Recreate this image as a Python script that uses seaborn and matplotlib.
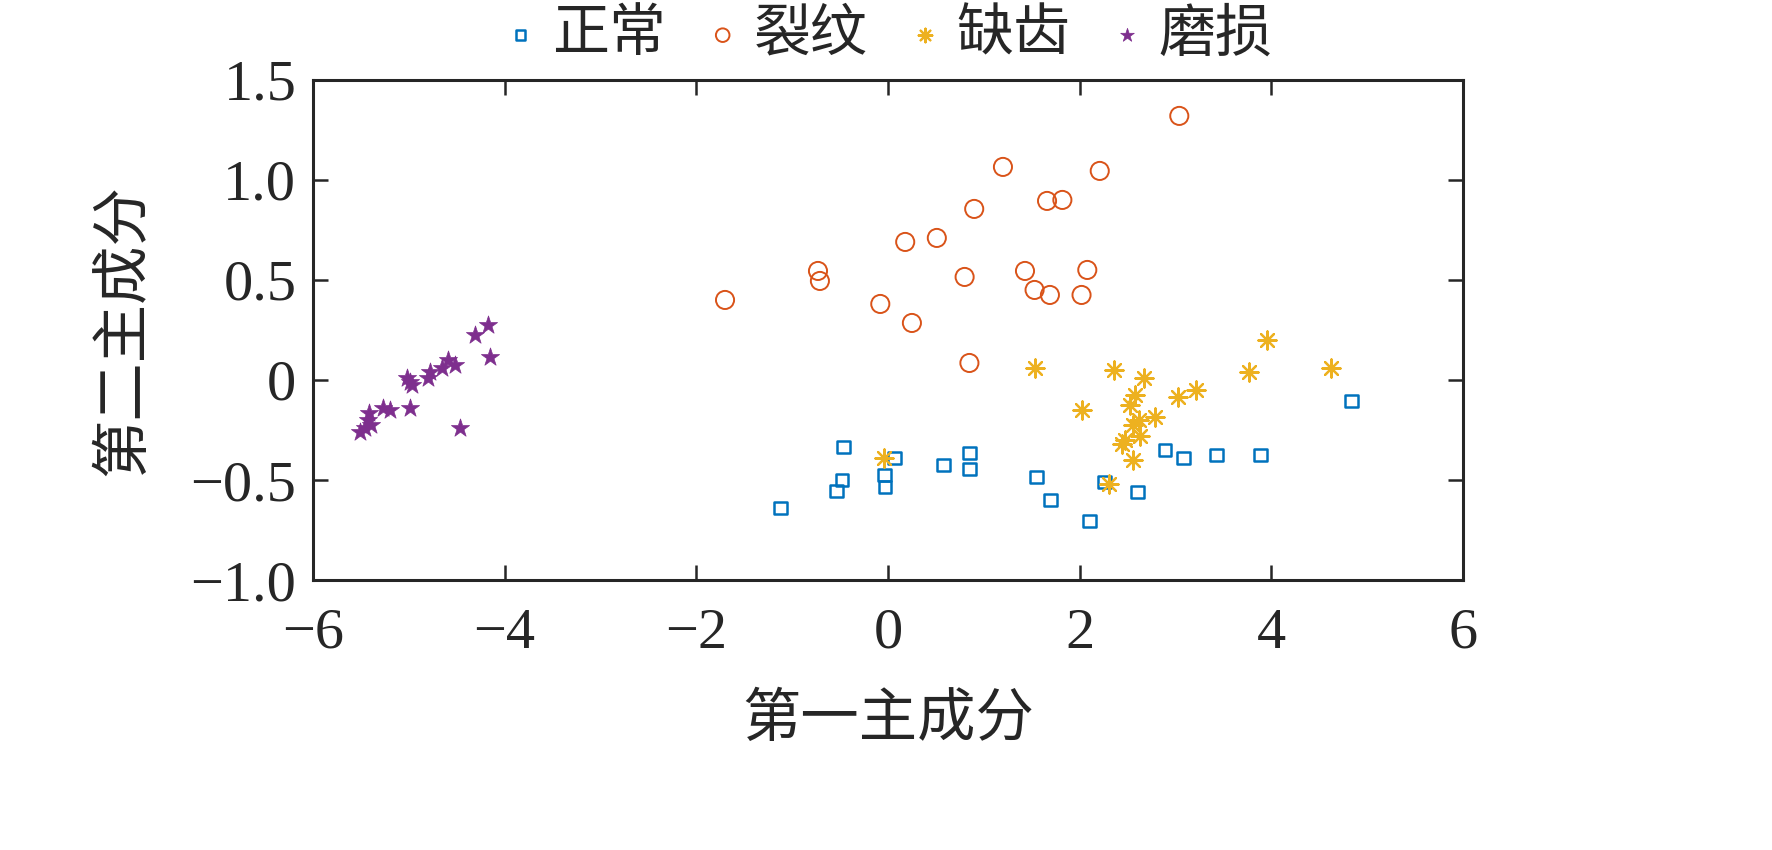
import numpy as np
import pandas as pd
import seaborn as sns
import matplotlib.pyplot as plt
from matplotlib.ticker import FuncFormatter

# 数据（从原图读取的主成分得分）
normal_x = [-1.12, -0.54, -0.48, -0.46, -0.04, -0.03, 0.07, 0.58, 0.85, 0.85,
            1.55, 1.70, 2.10, 2.26, 2.60, 2.89, 3.08, 3.43, 3.89, 4.84]
normal_y = [-0.64, -0.555, -0.50, -0.335, -0.475, -0.535, -0.39, -0.425, -0.365, -0.445,
            -0.485, -0.60, -0.705, -0.51, -0.56, -0.35, -0.39, -0.375, -0.375, -0.105]

crack_x = [-1.70, -0.73, -0.71, -0.08, 0.18, 0.25, 0.51, 0.90, 0.80, 0.85,
           1.20, 1.43, 1.53, 1.66, 1.69, 1.82, 2.02, 2.08, 2.21, 3.04]
crack_y = [0.40, 0.545, 0.495, 0.38, 0.69, 0.285, 0.71, 0.855, 0.515, 0.085,
           1.065, 0.545, 0.45, 0.895, 0.425, 0.90, 0.425, 0.55, 1.045, 1.32]

missing_x = [-0.04, 1.53, 2.02, 2.36, 2.31, 2.44, 2.47, 2.53, 2.56, 2.58,
             2.56, 2.62, 2.63, 2.67, 2.79, 3.03, 3.21, 3.77, 3.96, 4.62]
missing_y = [-0.39, 0.06, -0.15, 0.05, -0.52, -0.32, -0.30, -0.125, -0.40, -0.075,
             -0.225, -0.20, -0.28, 0.01, -0.185, -0.085, -0.05, 0.04, 0.20, 0.06]

wear_x = [-5.51, -5.46, -5.43, -5.41, -5.39, -5.27, -5.20, -5.02, -4.99, -4.99,
          -4.97, -4.80, -4.78, -4.65, -4.59, -4.52, -4.47, -4.31, -4.17, -4.15]
wear_y = [-0.26, -0.24, -0.20, -0.165, -0.225, -0.14, -0.15, 0.01, -0.01, -0.14,
          -0.025, 0.01, 0.04, 0.06, 0.10, 0.075, -0.24, 0.225, 0.275, 0.115]

classes = ["正常", "裂纹", "缺齿", "磨损"]
colors = ["#0072BD", "#D95319", "#EDB120", "#7E2F8E"]

df = pd.concat([
    pd.DataFrame({"x": normal_x, "y": normal_y, "cls": "正常"}),
    pd.DataFrame({"x": crack_x, "y": crack_y, "cls": "裂纹"}),
    pd.DataFrame({"x": missing_x, "y": missing_y, "cls": "缺齿"}),
    pd.DataFrame({"x": wear_x, "y": wear_y, "cls": "磨损"}),
])

sns.set_style("ticks")
plt.rcParams["font.family"] = ["Liberation Serif", "Noto Sans CJK SC"]
plt.rcParams["axes.unicode_minus"] = True

fig = plt.figure(figsize=(17.72, 8.5), dpi=100)
ax = fig.add_axes([0.1766, 0.3176, 0.649, 0.5884])

styles = {
    "正常": dict(marker="s", s=85, facecolor="none", linewidth=1.8),
    "裂纹": dict(marker="o", s=170, facecolor="none", linewidth=1.4),
    "缺齿": dict(marker=(8, 2, 0), s=170, linewidth=1.6),
    "磨损": dict(marker="*", s=190, linewidth=0.5),
}
for c, col in zip(classes, colors):
    sub = df[df["cls"] == c]
    sns.scatterplot(x=sub["x"], y=sub["y"], color=col, edgecolor=col,
                    label=c, ax=ax, **styles[c])

ax.set_xlim(-6, 6)
ax.set_ylim(-1.0, 1.5)
ax.set_xticks(np.arange(-6, 7, 2))
ax.set_yticks([-1.0, -0.5, 0, 0.5, 1.0, 1.5])
ax.yaxis.set_major_formatter(FuncFormatter(
    lambda v, p: "0" if abs(v) < 1e-9 else f"{v:.1f}".replace("-", "\u2212")))
ax.xaxis.set_major_formatter(FuncFormatter(
    lambda v, p: f"{int(round(v))}".replace("-", "\u2212")))

ax.tick_params(direction="in", top=True, right=True, length=11, width=1.8,
               labelsize=42, pad=12)
ax.tick_params(axis="x", pad=20)
for sp in ax.spines.values():
    sp.set_linewidth(2.2)
    sp.set_visible(True)

ax.set_xlabel("第一主成分", fontsize=42, labelpad=24)
ax.set_ylabel("第二主成分", fontsize=42, labelpad=28)

ax.legend(loc="lower center", bbox_to_anchor=(0.5, 0.99), ncol=4, frameon=False,
          fontsize=41, markerscale=0.75, handletextpad=0.25, columnspacing=0.7,
          handlelength=0.6, borderaxespad=0.0)

fig.savefig("out.png", dpi=100)
